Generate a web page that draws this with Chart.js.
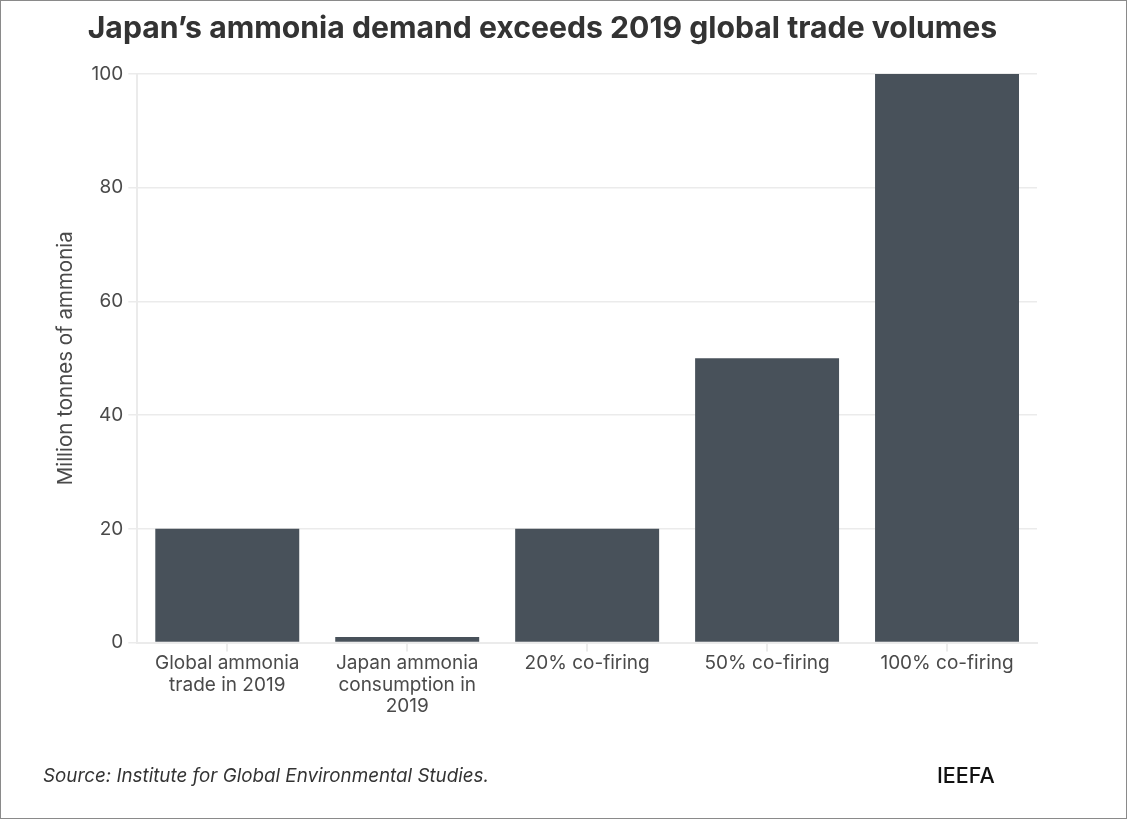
<!DOCTYPE html>
<html>
<head>
<meta charset="utf-8">
<script src="https://cdn.jsdelivr.net/npm/chart.js@4/dist/chart.umd.min.js"></script>
<style>
  html, body { margin: 0; padding: 0; background: #fff; }
  #wrap { position: relative; width: 1127px; height: 819px; overflow: hidden; font-family: Inter, "Noto Sans", sans-serif; }
  #frame { position: absolute; left: 0; top: 0; width: 1127px; height: 819px; box-sizing: border-box; border: 1px solid #8a8a8a; pointer-events: none; }
  #title { position: absolute; left: 0; width: 1085px; top: 9px; text-align: center; font-weight: 700; font-size: 30.2px; color: #333; }
  #source { position: absolute; left: 43px; top: 764px; font-style: italic; font-size: 18.8px; color: #333; }
  #brand { position: absolute; left: 937px; top: 762px; font-size: 21.5px; font-weight: 500; color: #111; }
  #c { position: absolute; left: 0; top: 0; }
</style>
</head>
<body>
<div id="wrap">
  <canvas id="c" width="1127" height="819"></canvas>
  <div id="title">Japan’s ammonia demand exceeds 2019 global trade volumes</div>
  <div id="source">Source: Institute for Global Environmental Studies.</div>
  <div id="brand">IEEFA</div>
  <div id="frame"></div>
</div>
<script>
const categories = [
  ["Global ammonia", "trade in 2019"],
  ["Japan ammonia", "consumption in", "2019"],
  "20% co-firing",
  "50% co-firing",
  "100% co-firing"
];
const values = [20, 1, 20, 50, 100];
const yTicks = [0, 20, 40, 60, 80, 100];
const yTitle = "Million tonnes of ammonia";

const gridColor = "#ebebeb";
const textColor = "#4a4a4a";

new Chart(document.getElementById("c"), {
  type: "bar",
  data: {
    labels: categories,
    datasets: [{
      data: values,
      backgroundColor: "#48515a",
      borderWidth: 0,
      barPercentage: 0.8,
      categoryPercentage: 1.0
    }]
  },
  options: {
    responsive: false,
    animation: false,
    devicePixelRatio: 1,
    layout: { padding: { left: 54, right: 90, top: 74, bottom: 101 } },
    plugins: { legend: { display: false }, tooltip: { enabled: false }, title: { display: false } },
    scales: {
      x: {
        grid: { display: true, drawOnChartArea: false, offset: false, color: gridColor, tickLength: 9, lineWidth: 2 },
        border: { display: true, color: gridColor, width: 2 },
        ticks: { color: textColor, font: { family: "Inter", size: 19, lineHeight: 1.13 }, padding: 1, maxRotation: 0, autoSkip: false }
      },
      y: {
        min: 0, max: 100,
        afterBuildTicks: (axis) => { axis.ticks = yTicks.map(v => ({ value: v })); },
        grid: { color: gridColor, tickLength: 9, lineWidth: 1.5 },
        border: { display: true, color: gridColor, width: 2 },
        ticks: { color: textColor, font: { family: "Inter", size: 19 }, padding: 5 },
        title: { display: true, text: yTitle, color: textColor, font: { family: "Inter", size: 20.5 }, padding: { top: 0, bottom: 8 } }
      }
    }
  }
});
</script>
</body>
</html>
